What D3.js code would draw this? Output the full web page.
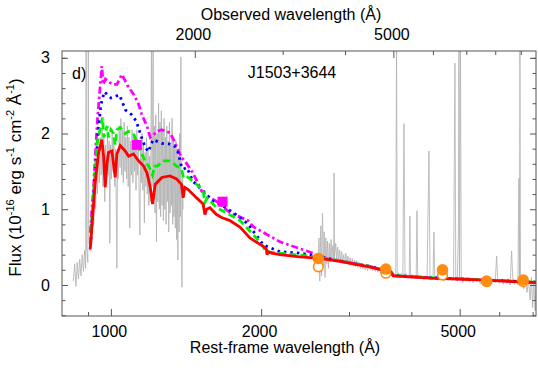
<!DOCTYPE html>
<html>
<head>
<meta charset="utf-8">
<script src="https://cdn.jsdelivr.net/npm/d3@7"></script>
<style>
body{margin:0;background:#fff;}
svg{display:block;font-family:"Liberation Sans",Arial,Helvetica,sans-serif;}
</style>
</head>
<body>
<div id="chart"></div>
<script>
const objectName = "J1503+3644";
const panelTag = "d)";
const redshift1p = 1.358;

// observed spectrum, UV part
const specUV = [[841,0.05],[846,0.28],[851,-0.02],[856,0.30],[861,0.08],[866,0.34],[871,0.12],[876,0.40],[881,0.18],[886,0.46],[890,0.22],[892,3.3],[894,0.50],[899,0.30],[901,3.3],[903,0.62],[908,0.45],[912,0.85],[916,0.55],[920,1.10],[924,0.80],[928,1.35],[932,1.00],[936,1.55],[940,1.20],[944,1.80],[948,1.35],[952,1.95],[956,1.45],[960,2.05],[964,1.30],[968,1.95],[972,1.10],[976,1.85],[980,1.35],[984,2.00],[988,1.45],[992,1.90],[995,0.55],[998,1.85],[1002,1.40],[1006,2.05],[1010,1.50],[1014,1.95],[1018,1.30],[1022,1.80],[1026,0.85],[1028,0.22],[1031,1.70],[1035,1.40],[1039,2.10],[1043,1.55],[1047,2.20],[1051,1.45],[1055,2.05],[1059,1.35],[1063,2.15],[1067,1.50],[1071,1.95],[1075,1.40],[1079,2.10],[1083,1.30],[1087,1.95],[1091,0.75],[1095,1.90],[1099,1.45],[1103,2.05],[1107,1.35],[1111,2.00],[1115,1.50],[1119,1.90],[1123,1.25],[1127,2.05],[1131,1.45],[1135,1.85],[1139,1.20],[1143,0.66],[1147,1.80],[1151,1.35],[1155,2.00],[1159,1.25],[1163,1.85],[1167,0.82],[1171,1.75],[1175,1.30],[1179,1.95],[1183,1.20],[1187,1.80],[1191,1.05],[1195,1.70],[1199,1.10],[1203,1.90],[1206,3.3],[1209,1.30],[1213,2.20],[1215,3.3],[1218,1.20],[1222,2.10],[1226,0.95],[1230,2.25],[1234,0.57],[1238,2.00],[1242,1.10],[1246,2.40],[1250,1.00],[1254,2.15],[1258,0.90],[1262,2.30],[1266,1.05],[1270,2.05],[1274,0.85],[1278,2.20],[1282,1.00],[1286,1.95],[1290,0.80],[1294,2.10],[1298,1.10],[1302,1.90],[1306,0.70],[1310,2.15],[1314,0.95],[1318,1.85],[1322,1.05],[1326,2.20],[1330,0.80],[1334,1.95],[1338,0.90],[1342,1.80],[1346,0.75],[1350,1.90],[1354,0.60],[1358,1.75],[1362,0.33],[1366,1.70],[1370,0.70],[1374,2.00],[1378,0.90],[1381,3.01],[1384,0.80],[1388,-0.03],[1392,1.40],[1396,1.00]];

// observed spectrum, optical part
const specOpt = [[2600,0.20],[2612,0.62],[2622,0.05],[2634,0.78],[2644,0.12],[2655,0.95],[2665,0.25],[2676,0.70],[2686,0.10],[2697,0.62],[2708,0.28],[2718,0.58],[2729,0.22],[2740,0.55],[2751,0.30],[2762,0.60],[2773,0.35],[2785,0.52],[2796,0.32],[2800,1.48],[2806,0.35],[2822,0.55],[2835,0.33],[2848,0.50],[2861,0.32],[2874,0.46],[2887,0.30],[2900,0.44],[2914,0.31],[2928,0.40],[2942,0.28],[2956,0.42],[2970,0.29],[2985,0.38],[3000,0.27],[3015,0.36],[3030,0.26],[3046,0.35],[3062,0.25],[3078,0.33],[3094,0.24],[3110,0.32],[3127,0.23],[3144,0.30],[3161,0.22],[3178,0.29],[3196,0.21],[3214,0.28],[3232,0.20],[3250,0.27],[3269,0.19],[3288,0.26],[3307,0.20],[3326,0.25],[3346,0.19],[3366,0.24],[3386,0.18],[3406,0.23],[3427,0.17],[3448,0.22],[3469,0.16],[3491,0.21],[3513,0.15],[3535,0.20],[3558,0.15],[3581,0.19],[3604,0.14],[3627,0.18],[3650,0.12],[3674,0.16],[3698,0.10],[3722,0.15],[3736,3.30],[3748,0.12],[3770,0.16],[3795,0.11],[3820,0.15],[3846,0.10],[3866,2.13],[3885,0.11],[3910,0.15],[3936,0.09],[3962,0.13],[3974,0.91],[3985,0.10],[4012,0.14],[4040,0.09],[4068,0.13],[4090,0.08],[4106,0.98],[4120,0.11],[4150,0.13],[4180,0.08],[4210,0.12],[4240,0.07],[4270,0.12],[4300,0.08],[4339,1.77],[4360,0.10],[4395,0.12],[4420,0.07],[4440,0.70],[4455,0.10],[4485,0.12],[4520,0.06],[4555,0.11],[4590,0.07],[4625,0.10],[4660,0.05],[4700,0.10],[4740,0.06],[4780,0.10],[4820,0.06],[4860,0.09],[4891,2.93],[4910,0.09],[4945,0.05],[4970,0.71],[4982,3.30],[4995,0.10],[5018,3.30],[5035,0.08],[5070,0.03],[5110,0.09],[5150,0.05],[5190,0.08],[5230,0.04],[5275,0.09],[5320,0.03],[5365,0.08],[5410,0.04],[5455,0.08],[5500,0.01],[5545,0.07],[5590,0.02],[5640,0.09],[5690,0.01],[5740,0.07],[5790,0.02],[5840,0.08],[5890,0.03],[5929,0.38],[5960,0.06],[6010,0.02],[6060,0.08],[6110,0.01],[6160,0.07],[6210,0.02],[6260,0.08],[6310,0.00],[6353,0.45],[6390,0.06],[6440,0.01],[6490,0.07],[6540,0.00],[6570,1.41],[6588,0.05],[6601,3.30],[6620,0.04],[6670,0.10],[6720,-0.05],[6770,0.08],[6820,-0.10],[6870,0.06],[6920,-0.20],[6960,0.10],[7000,-0.30],[7040,0.05],[7080,-0.34],[7110,0.02]];

// model curves
const redModel = [[909,0.47],[930,1.35],[945,1.75],[959,1.92],[967,1.70],[974,1.29],[982,1.60],[989,1.75],[1005,1.77],[1012,1.60],[1020,1.42],[1028,1.73],[1044,1.84],[1068,1.77],[1085,1.70],[1110,1.73],[1136,1.64],[1163,1.57],[1181,1.48],[1199,1.29],[1212,1.07],[1227,1.33],[1265,1.42],[1313,1.44],[1354,1.40],[1385,1.33],[1396,1.15],[1406,1.29],[1428,1.26],[1485,1.15],[1530,1.07],[1543,0.93],[1555,1.00],[1579,1.02],[1628,0.93],[1667,0.89],[1732,0.85],[1816,0.76],[1899,0.62],[2020,0.51],[2050,0.47],[2055,0.40],[2065,0.44],[2100,0.42],[2181,0.40],[2391,0.37],[2622,0.35],[2876,0.31],[3300,0.24],[3640,0.17],[3680,0.12],[4361,0.09],[5485,0.066],[7140,0.03]];
const greenModel = [[909,0.54],[925,1.30],[940,1.90],[955,2.10],[962,2.21],[968,1.95],[974,2.00],[982,2.10],[989,1.95],[1000,2.05],[1012,2.00],[1020,1.85],[1028,2.05],[1044,2.08],[1068,2.00],[1085,2.03],[1110,2.00],[1140,1.81],[1170,1.64],[1195,1.55],[1212,1.45],[1222,1.57],[1240,1.57],[1272,1.64],[1313,1.64],[1354,1.57],[1385,1.53],[1396,1.44],[1406,1.46],[1428,1.42],[1485,1.33],[1530,1.24],[1543,1.09],[1560,1.15],[1628,1.02],[1700,0.955],[1816,0.85],[1899,0.71],[1975,0.59],[2050,0.44],[2100,0.43],[2181,0.42],[2500,0.38],[2700,0.35],[2876,0.32],[3300,0.245],[3640,0.175],[3680,0.125],[4361,0.095],[5485,0.07],[7140,0.035]];
const blueModel = [[912,0.60],[930,1.50],[945,2.10],[955,2.38],[970,2.55],[1000,2.47],[1040,2.51],[1070,2.31],[1100,2.25],[1125,2.16],[1150,1.96],[1170,1.83],[1188,1.76],[1215,1.92],[1265,1.87],[1313,1.86],[1340,1.84],[1365,1.74],[1385,1.56],[1396,1.53],[1420,1.55],[1460,1.37],[1530,1.24],[1600,1.11],[1700,1.02],[1780,0.93],[1880,0.81],[2020,0.53],[2052,0.51],[2181,0.44],[2391,0.42],[2622,0.38],[2832,0.32],[3300,0.245],[3640,0.175],[3680,0.125],[4361,0.095],[5485,0.07],[7140,0.035]];
const magentaModel = [[909,0.69],[923,1.30],[940,2.20],[959,2.89],[965,2.65],[975,2.72],[1005,2.65],[1028,2.65],[1052,2.78],[1085,2.61],[1110,2.52],[1136,2.39],[1153,2.25],[1181,2.10],[1199,1.95],[1240,2.03],[1265,2.05],[1313,2.01],[1340,1.90],[1358,1.81],[1385,1.68],[1406,1.64],[1460,1.48],[1520,1.24],[1555,1.18],[1640,1.09],[1730,0.955],[1884,0.85],[1928,0.77],[2181,0.57],[2391,0.48],[2541,0.42],[2622,0.37],[2876,0.32],[3300,0.245],[3640,0.175],[3680,0.125],[4361,0.095],[5485,0.07],[7140,0.035]];

// photometry
const uvPhot = [[1127,1.85],[1674,1.10]];
const optPhotWave = [2604,3556,4619,5662,6700];
const optPhotFilled = [0.35,0.21,0.20,0.05,0.066];
const optPhotOpen = [0.24,0.155,0.13,0.045,0.044];

// axis ticks
const restMajor = [1000,2000,5000];
const restMinor = [900,3000,4000,6000,7000];
const obsMajor = [2000,5000];
const obsMinor = [3000,4000,6000,7000,8000,9000];
const fluxMajor = [0,1,2,3];
const fluxMinor = [-0.4,-0.2,0.2,0.4,0.6,0.8,1.2,1.4,1.6,1.8,2.2,2.4,2.6,2.8,3.0];

const wid = 538, hei = 373;
const padL = 62, padR = 536, padT = 51, padB = 316;
const axisCol = "#555";

const svg = d3.select("#chart").append("svg").attr("width",wid).attr("height",hei);

const x = d3.scaleLog().domain([798,7110]).range([padL,padR]);
const xObs = d3.scaleLog().domain([798*redshift1p,7110*redshift1p]).range([padL,padR]);
const y = d3.scaleLinear().domain([-0.41,3.09]).range([padB,padT]);

svg.append("clipPath").attr("id","plotclip").append("rect")
  .attr("x",padL).attr("y",padT).attr("width",padR-padL).attr("height",padB-padT);

const plot = svg.append("g").attr("clip-path","url(#plotclip)");
const line = d3.line().x(d=>x(d[0])).y(d=>y(d[1]));

// grey spectrum
[specUV,specOpt].forEach(s=>{
  plot.append("path").attr("d",line(s)).attr("fill","none")
    .attr("stroke","#b0b0b0").attr("stroke-width",0.8);
});

// models, back to front
const models = [
  {d:magentaModel,c:"#ff00ff",dash:"7,3,2.5,3"},
  {d:blueModel,c:"#0000ff",dash:"2.5,4"},
  {d:greenModel,c:"#00f000",dash:"7,4"},
  {d:redModel,c:"#ff0000",dash:null}
];
models.forEach(m=>{
  plot.append("path").attr("d",line(m.d)).attr("fill","none")
    .attr("stroke",m.c).attr("stroke-width",2.8)
    .attr("stroke-dasharray",m.dash);
});

// UV photometry squares
plot.selectAll("rect.uvp").data(uvPhot).enter().append("rect")
  .attr("x",d=>x(d[0])-5).attr("y",d=>y(d[1])-5)
  .attr("width",10).attr("height",10).attr("fill","#ff00ff");

// optical photometry circles
const orange = "#ff8c12";
plot.selectAll("circle.open").data(optPhotWave).enter().append("circle")
  .attr("cx",d=>x(d)).attr("cy",(d,i)=>y(optPhotOpen[i])).attr("r",4.8)
  .attr("fill","#fff").attr("stroke",orange).attr("stroke-width",1.6);
plot.selectAll("circle.fill").data(optPhotWave).enter().append("circle")
  .attr("cx",d=>x(d)).attr("cy",(d,i)=>y(optPhotFilled[i])).attr("r",5.8)
  .attr("fill",orange);

// ** axes **
function styleAxis(g){
  g.select(".domain").remove();
  g.selectAll(".tick line").attr("stroke",axisCol);
  g.selectAll(".tick text").attr("fill","#000").style("font-size","16px");
}
svg.append("g").attr("transform",`translate(${padL},0)`)
  .call(d3.axisLeft(y).tickValues(fluxMajor).tickSize(-6).tickPadding(12).tickFormat(d3.format("d"))).call(styleAxis);
svg.append("g").attr("transform",`translate(${padL},0)`)
  .call(d3.axisLeft(y).tickValues(fluxMinor).tickSize(-3.5).tickFormat("")).call(styleAxis);
svg.append("g").attr("transform",`translate(${padR},0)`)
  .call(d3.axisRight(y).tickValues(fluxMajor).tickSize(-6).tickFormat("")).call(styleAxis);
svg.append("g").attr("transform",`translate(${padR},0)`)
  .call(d3.axisRight(y).tickValues(fluxMinor).tickSize(-3.5).tickFormat("")).call(styleAxis);

const bAx = svg.append("g").attr("transform",`translate(0,${padB})`)
  .call(d3.axisBottom(x).tickValues(restMajor).tickSize(-7).tickPadding(9.5).tickFormat(d3.format("d"))).call(styleAxis);
bAx.selectAll(".tick text").attr("dx",-2);
svg.append("g").attr("transform",`translate(0,${padB})`)
  .call(d3.axisBottom(x).tickValues(restMinor).tickSize(-4).tickFormat("")).call(styleAxis);

const tAx = svg.append("g").attr("transform",`translate(0,${padT})`)
  .call(d3.axisTop(xObs).tickValues(obsMajor).tickSize(-7).tickPadding(11).tickFormat(d3.format("d"))).call(styleAxis);
tAx.selectAll(".tick text").attr("dx",-2);
svg.append("g").attr("transform",`translate(0,${padT})`)
  .call(d3.axisTop(xObs).tickValues(obsMinor).tickSize(-4).tickFormat("")).call(styleAxis);

// frame
svg.append("rect").attr("x",padL).attr("y",padT).attr("width",padR-padL).attr("height",padB-padT)
  .attr("fill","none").attr("stroke",axisCol).attr("stroke-width",1);

// ** labels **
svg.append("text").attr("x",291).attr("y",20).attr("text-anchor","middle")
  .style("font-size","16px").text("Observed wavelength (Å)");
svg.append("text").attr("x",285).attr("y",353).attr("text-anchor","middle")
  .style("font-size","16px").text("Rest-frame wavelength (Å)");
svg.append("text").attr("x",72).attr("y",79).style("font-size","16px").text(panelTag);
svg.append("text").attr("x",292).attr("y",78).attr("text-anchor","middle")
  .style("font-size","16px").text(objectName);

const yl = svg.append("text").attr("transform","translate(20.5,177.5) rotate(-90)")
  .attr("text-anchor","middle").style("font-size","17px");
const parts = [["Flux (10",false],["-16",true],[" erg s",false],["-1",true],[" cm",false],["-2",true],[" Å",false],["-1",true],[")",false]];
parts.forEach((p,i)=>{
  const t = yl.append("tspan").text(p[0]);
  if(p[1]) t.attr("dy",-7).style("font-size","11px");
  else if(i>0) t.attr("dy",7);
});
</script>
</body>
</html>
